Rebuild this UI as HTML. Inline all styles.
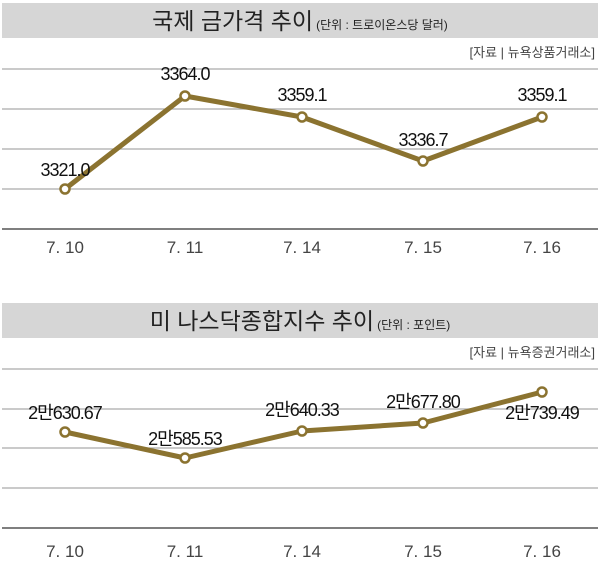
<!DOCTYPE html>
<html><head><meta charset="utf-8"><style>
body{margin:0;background:#fff;}
svg{display:block;font-family:"Liberation Sans","Noto Sans CJK KR",sans-serif;}
</style></head><body>
<svg width="600" height="570" viewBox="0 0 600 570" xmlns="http://www.w3.org/2000/svg">
<rect x="2" y="3" width="596" height="35" fill="#d6d6d6"/>
<text x="300" y="29" text-anchor="middle" font-size="23" fill="#222"><tspan>국제 금가격 추이</tspan><tspan font-size="12" dx="3">(단위 : 트로이온스당 달러)</tspan></text>
<text x="595" y="57" text-anchor="end" font-size="13" fill="#444">[자료 | 뉴욕상품거래소]</text>
<g stroke="#aaa" stroke-width="1.2">
<line x1="2" y1="69" x2="598" y2="69"/><line x1="2" y1="109" x2="598" y2="109"/>
<line x1="2" y1="149" x2="598" y2="149"/><line x1="2" y1="189" x2="598" y2="189"/>
</g>
<line x1="2" y1="229" x2="598" y2="229" stroke="#555" stroke-width="1.5"/>
<polyline points="65,189 185,96 302,117 423,161 542,117" fill="none" stroke="#8b7330" stroke-width="5" stroke-linejoin="round"/>
<g fill="#fff" stroke="#8b7330" stroke-width="2.5">
<circle cx="65" cy="189" r="4.5"/><circle cx="185" cy="96" r="4.5"/><circle cx="302" cy="117" r="4.5"/><circle cx="423" cy="161" r="4.5"/><circle cx="542" cy="117" r="4.5"/>
</g>
<g font-size="18" fill="#111" text-anchor="middle" letter-spacing="-1">
<text x="65" y="176">3321.0</text><text x="185" y="80">3364.0</text><text x="302" y="101">3359.1</text><text x="423" y="146">3336.7</text><text x="542" y="101">3359.1</text>
</g>
<g font-size="17" fill="#444" text-anchor="middle">
<text x="65" y="253">7. 10</text><text x="185" y="253">7. 11</text><text x="302" y="253">7. 14</text><text x="423" y="253">7. 15</text><text x="542" y="253">7. 16</text>
</g>
<rect x="2" y="303" width="596" height="35" fill="#d6d6d6"/>
<text x="300" y="329" text-anchor="middle" font-size="23" fill="#222"><tspan>미 나스닥종합지수 추이</tspan><tspan font-size="12" dx="3">(단위 : 포인트)</tspan></text>
<text x="595" y="357" text-anchor="end" font-size="13" fill="#444">[자료 | 뉴욕증권거래소]</text>
<g stroke="#aaa" stroke-width="1.2">
<line x1="2" y1="369" x2="598" y2="369"/><line x1="2" y1="409" x2="598" y2="409"/>
<line x1="2" y1="448" x2="598" y2="448"/><line x1="2" y1="488" x2="598" y2="488"/>
</g>
<line x1="2" y1="528" x2="598" y2="528" stroke="#555" stroke-width="1.5"/>
<polyline points="65,432 185,458 302,431 423,423 542,392" fill="none" stroke="#8b7330" stroke-width="5" stroke-linejoin="round"/>
<g fill="#fff" stroke="#8b7330" stroke-width="2.5">
<circle cx="65" cy="432" r="4.5"/><circle cx="185" cy="458" r="4.5"/><circle cx="302" cy="431" r="4.5"/><circle cx="423" cy="423" r="4.5"/><circle cx="542" cy="392" r="4.5"/>
</g>
<g font-size="18" fill="#111" text-anchor="middle" letter-spacing="-1">
<text x="65" y="419">2만630.67</text><text x="185" y="445">2만585.53</text><text x="302" y="416">2만640.33</text><text x="423" y="408">2만677.80</text><text x="542" y="419">2만739.49</text>
</g>
<g font-size="17" fill="#444" text-anchor="middle">
<text x="65" y="557">7. 10</text><text x="185" y="557">7. 11</text><text x="302" y="557">7. 14</text><text x="423" y="557">7. 15</text><text x="542" y="557">7. 16</text>
</g>
</svg>
</body></html>
